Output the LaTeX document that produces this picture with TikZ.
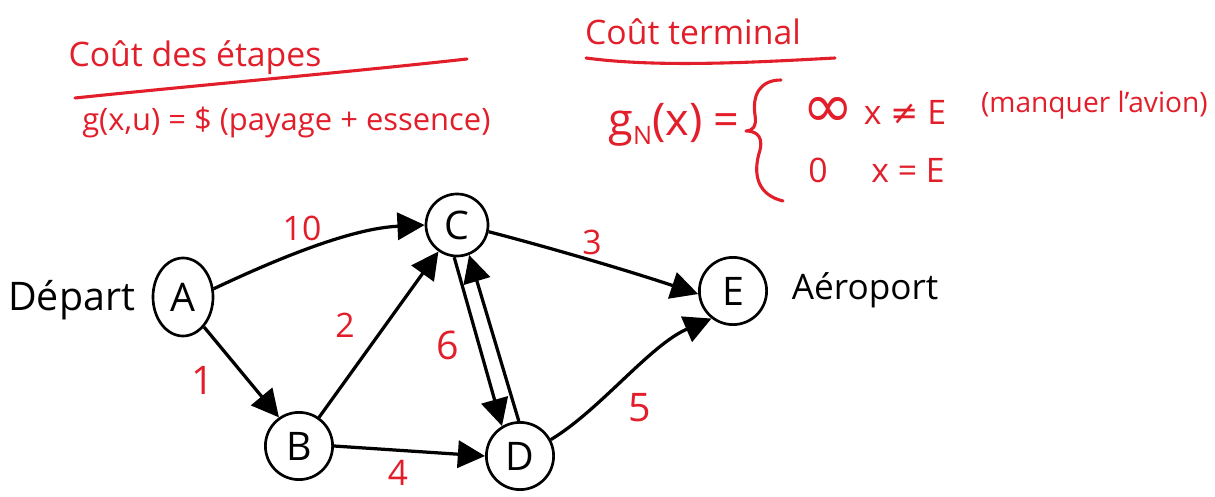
\documentclass[tikz,border=0pt]{standalone}
\usepackage{fontspec}
\setmainfont{Open Sans}
\newfontfamily\symf{DejaVu Sans}
\usetikzlibrary{arrows.meta,shapes.geometric}
\definecolor{ink}{RGB}{226,30,42}
\begin{document}
\begin{tikzpicture}[x=0.025cm,y=-0.025cm,
  vtx/.style={draw, circle, line width=1.9pt, minimum size=1.68cm, inner sep=0pt,
    font=\fontsize{28}{28}\selectfont},
  vtxe/.style={draw, ellipse, line width=1.9pt, minimum width=1.5cm, minimum height=1.95cm,
    inner sep=0pt, font=\fontsize{28}{28}\selectfont},
  edge/.style={line width=2.3pt, line join=round, -{Triangle[length=0.68cm,width=0.68cm]}},
  wt/.style={text=ink, font=\fontsize{28}{28}\selectfont},
  lab/.style={font=\fontsize{28}{28}\selectfont},
  rtxt/.style={text=ink, font=\fontsize{24}{24}\selectfont, inner sep=0pt},
  uline/.style={draw=ink, line width=2.2pt, line cap=round}]
\useasboundingbox (0,0) rectangle (1215,497);

% vertices
\node[vtxe] (A) at (183,297) {A};
\node[vtx]  (B) at (299,446) {B};
\node[vtx, minimum size=1.55cm] (C) at (457,225) {C};
\node[vtx]  (D) at (520,456) {D};
\node[vtx]  (E) at (733,291) {E};

\node[lab, anchor=east] (dep) at (140,300) {Départ};
\node[lab, anchor=west, font=\fontsize{25}{25}\selectfont] (aer) at (787,290) {Aéroport};

% edges
\draw[edge] (A.15) .. controls (300,248) and (360,228) .. (C.180);
\draw[edge] (A.-55) -- (B.125);
\draw[edge] (B.55) -- (C.235);
\draw[edge] (B.0) -- (D.180);
\draw[edge] (C.265) -- (D.121);
\draw[edge] (D.92) -- (C.-68);
\draw[edge] (C.-12) .. controls (540,245) and (620,268) .. (E.185);
\draw[edge] (D.28) .. controls (600,410) and (650,345) .. (E.232);

% weights
\node[wt, font=\fontsize{24}{24}\selectfont] (w10) at (302,228) {10};
\node[wt, font=\fontsize{24}{24}\selectfont] (w3) at (592,242) {3};
\node[wt] (w1) at (203,380) {1};
\node[wt, font=\fontsize{24}{24}\selectfont] (w2) at (345,325) {2};
\node[wt] (w6) at (448,345) {6};
\node[wt, font=\fontsize{25}{25}\selectfont] (w4) at (398,473) {4};
\node[wt] (w5) at (640,408) {5};

% stage cost
\node[rtxt] (t1) at (195,58) {Coût des étapes};
\coordinate (u1a) at (75,98);
\coordinate (u1b) at (467,59);
\draw[uline] (u1a) .. controls (200,85) and (350,72) .. (u1b);
\node[rtxt, anchor=west, font=\fontsize{22}{22}\selectfont] (g1) at (82,122) {g(x,u) = \$ (payage + essence)};

% terminal cost
\node[rtxt] (t2) at (693,32) {Coût terminal};
\coordinate (u2a) at (586,58);
\coordinate (u2b) at (835,58);
\draw[uline] (u2a) .. controls (660,68) and (760,62) .. (u2b);
\node[rtxt, anchor=east, font=\fontsize{32}{32}\selectfont] (g2) at (740,125) {g\raisebox{-0.35ex}{\fontsize{18}{18}\selectfont N}(x) =};
\coordinate (b1) at (781,80);
\coordinate (b2) at (746,131);
\coordinate (b3) at (783,201);
\draw[uline, line join=round] (b1) .. controls (760,80) and (752,95) .. (755,115)
  .. controls (757,127) and (752,131) .. (b2)
  .. controls (752,131) and (764,133) .. (760,150)
  .. controls (752,175) and (758,195) .. (b3);
\node[rtxt, font=\fontsize{44}{44}\selectfont] (inf) at (828,112) {\symf ∞};
\node[rtxt] (c1) at (905,112) {x {\symf ≠} E};
\node[rtxt, anchor=east, font=\fontsize{20}{20}\selectfont] (c1b) at (1208,105) {(manquer l'avion)};
\node[rtxt] (zero) at (818,170) {0};
\node[rtxt] (c2) at (908,170) {x = E};
\end{tikzpicture}
\end{document}
